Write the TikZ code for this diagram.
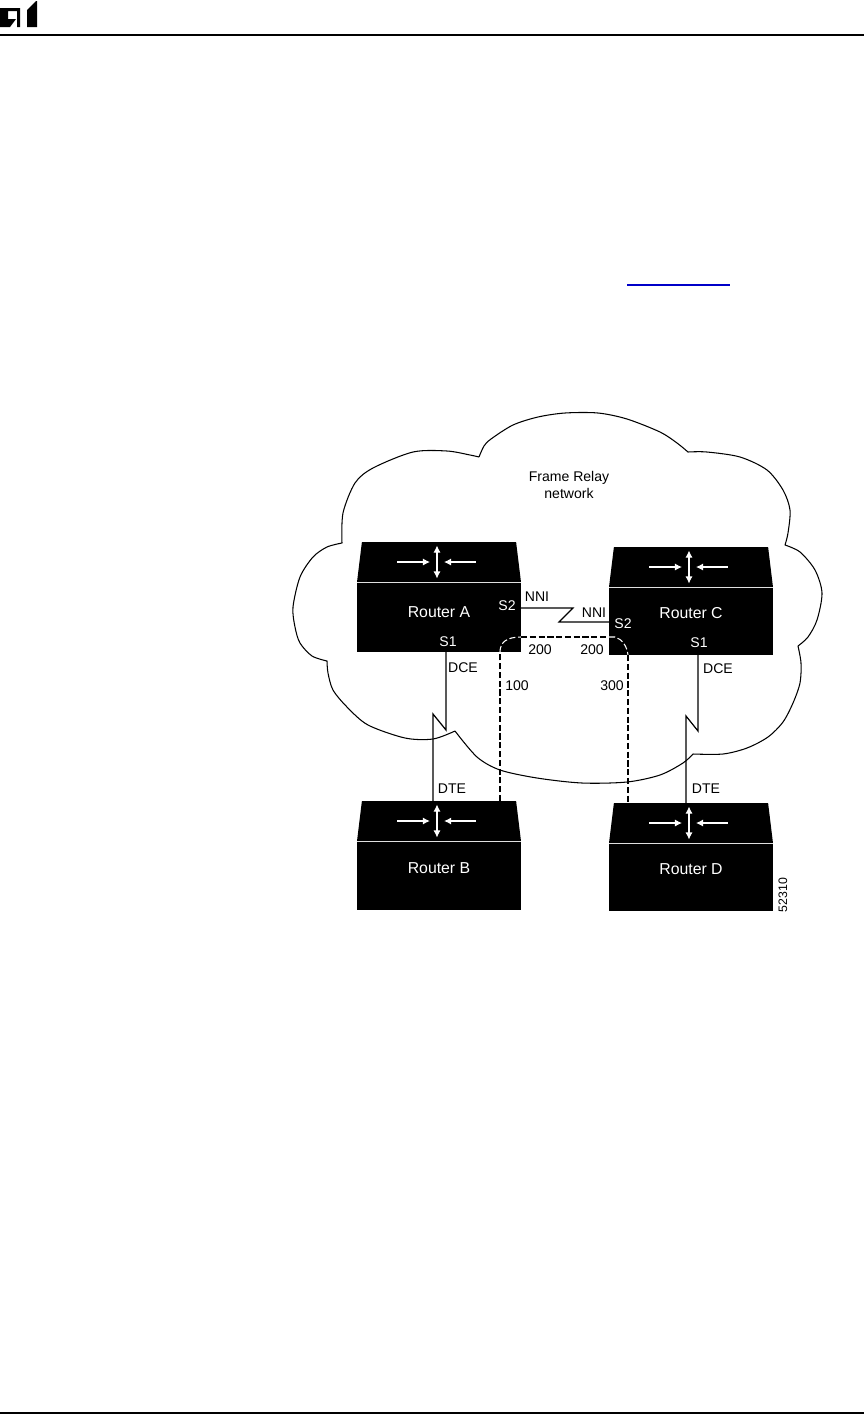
\documentclass[tikz,border=0pt]{standalone}
\usepackage{fontspec}
\setmainfont{Liberation Sans}
\usepackage{tikz}
\usetikzlibrary{positioning,arrows.meta,shapes.geometric}
\definecolor{linkblue}{RGB}{0,0,200}

\begin{document}
\begin{tikzpicture}[
  x=0.02cm, y=-0.02cm,
  router/.style={fill=black, text=white, inner sep=0pt, outer sep=0pt, minimum width=3.28cm, minimum height=1.36cm, text height=6pt, text depth=9pt, font=\fontsize{9}{10}\selectfont},
  roof/.style={trapezium, trapezium stretches body=true, trapezium left angle=68, trapezium right angle=68, fill=black, inner sep=0pt, outer sep=0pt, minimum width=3.28cm, minimum height=0.8cm},
  link/.style={line width=0.7pt},
  cloudline/.style={line width=0.6pt, line join=round},
  pvc/.style={line width=0.6pt, dash pattern=on 3.5pt off 1.5pt},
  note/.style={inner sep=0pt, align=center, font=\fontsize{8}{9.5}\selectfont},
  inote/.style={note, text=white},
  flow/.style={white, -{Latex[length=4pt,width=4pt]}}
]
\useasboundingbox (0,0) rectangle (864,1414);

% page furniture
\fill (0,8) -- (20,8) -- (20,27) -- (17,27) -- (17,11) -- (8,11) -- (8,19) -- (16,19) -- (10,27) -- (0,27) -- cycle;
\fill (27,10) -- (36,1) -- (37,1) -- (37,27) -- (27,27) -- cycle;
\draw[line width=1.7pt] (0,35) -- (864,35);
\draw[line width=1.1pt] (0,1413) -- (864,1413);
\draw[linkblue, line width=0.8pt] (627,285) -- (730,285);

% cloud
\draw[cloudline] plot[smooth, tension=0.5] coordinates {(479,457) (484,446) (491,439) (513,425) (538,417) (565,413) (598,413) (627,419) (660,432) (677,443) (688,452)}
  -- plot[smooth, tension=0.5] coordinates {(688,452) (707,452) (740,457) (767,470) (783,490) (790,510) (788,533) (785,545)}
  -- plot[smooth, tension=0.5] coordinates {(785,545) (800,552) (815,570) (822,593) (817,620) (808,637) (798,646)}
  -- plot[smooth, tension=0.5] coordinates {(798,646) (801,663) (800,683) (793,703) (783,722) (768,737) (747,748) (723,754) (693,754)}
  -- plot[smooth, tension=0.5] coordinates {(693,754) (683,763) (660,775) (627,782) (582,783) (537,778) (500,770) (477,757) (455,731)}
  -- plot[smooth, tension=0.5] coordinates {(455,731) (433,739) (405,738) (368,725) (347,707) (333,690) (328,673) (327,661)}
  -- plot[smooth, tension=0.5] coordinates {(327,661) (312,656) (300,643) (295,627) (293,607) (300,577) (313,557) (327,547) (342,543)}
  -- plot[smooth, tension=0.5] coordinates {(342,543) (343,513) (355,483) (373,468) (413,452) (447,451) (470,455) (479,457)};

\node[note] (cloudname) at (569,485) {Frame Relay\\network};

% routers
\node[router, text depth=6pt, minimum height=1.38cm] (routerA) at (439,617.5) {Router A};
\node[router, minimum height=1.34cm] (routerC) at (691,621.5) {Router C};
\node[router] (routerB) at (439,876) {Router B};
\node[router, minimum height=1.34cm] (routerD) at (691,877.5) {Router D};

\node[roof, above=0.02cm of routerA] (roofA) {\phantom{M}};
\node[roof, above=0.02cm of routerC] (roofC) {\phantom{M}};
\node[roof, above=0.02cm of routerB] (roofB) {\phantom{M}};
\node[roof, above=0.02cm of routerD] (roofD) {\phantom{M}};

\foreach \r/\w in {A/0.6pt, C/0.6pt, B/1.2pt, D/0.6pt} {
  \draw[flow, line width=\w] ([xshift=-0.84cm]roof\r.center) -- ([xshift=-0.18cm]roof\r.center);
  \draw[flow, line width=\w] ([xshift=0.74cm]roof\r.center) -- ([xshift=0.1cm]roof\r.center);
  \draw[flow, {Latex[length=4pt,width=4pt]}-{Latex[length=4pt,width=4pt]}, line width=0.6pt] ([xshift=-0.04cm,yshift=0.33cm]roof\r.center) -- ([xshift=-0.04cm,yshift=-0.33cm]roof\r.center);
}

% serial links
\coordinate (kinkA) at (446,730);
\coordinate (stepA) at (433,714);
\coordinate (kinkC) at (698,731);
\coordinate (stepC) at (686,716);
\coordinate (kinkN) at (573,608);
\coordinate (stepN) at (559,622);

\draw[link] (kinkA |- routerA.south) -- (kinkA) -- (stepA) -- (stepA |- roofB.north);
\draw[link] (kinkC |- routerC.south) -- (kinkC) -- (stepC) -- (stepC |- roofD.north);
\draw[link] (routerA.east |- kinkN) -- (kinkN) -- (stepN) -- (routerC.west |- stepN);

% virtual circuits
\coordinate (pvcB) at (500,652);
\coordinate (pvcA) at (521,637);
\coordinate (pvcC) at (609,637);
\coordinate (pvcD) at (628,655);

\draw[pvc] (pvcB |- roofB.north) -- (pvcB);
\draw[pvc, white] (pvcB) .. controls (500,642) and (507,637) .. (pvcA);
\draw[pvc] (pvcA) -- (pvcC);
\draw[pvc, white] (pvcC) -- (615,637) .. controls (622,639) and (627,646) .. (pvcD);
\draw[pvc] (pvcD) -- (pvcD |- roofD.north);

% labels
\node[note] (nniA) at (537,597) {NNI};
\node[note] (nniC) at (594,613) {NNI};
\node[inote] (s2A) at (507,606) {S2};
\node[inote] (s2C) at (623,624) {S2};
\node[inote] (s1A) at (448,642) {S1};
\node[inote] (s1C) at (699,643) {S1};
\node[note] (dceA) at (463,668) {DCE};
\node[note] (dceC) at (718,669) {DCE};
\node[note] (dlciA) at (540,650) {200};
\node[note] (dlciC) at (592,650) {200};
\node[note] (dlciB) at (517,686) {100};
\node[note] (dlciD) at (612,686) {300};
\node[note] (dteB) at (452,789) {DTE};
\node[note] (dteD) at (706,789) {DTE};
\node[note, rotate=90, font=\fontsize{7}{8}\selectfont] (figno) at (783,895) {52310};

\end{tikzpicture}
\end{document}
